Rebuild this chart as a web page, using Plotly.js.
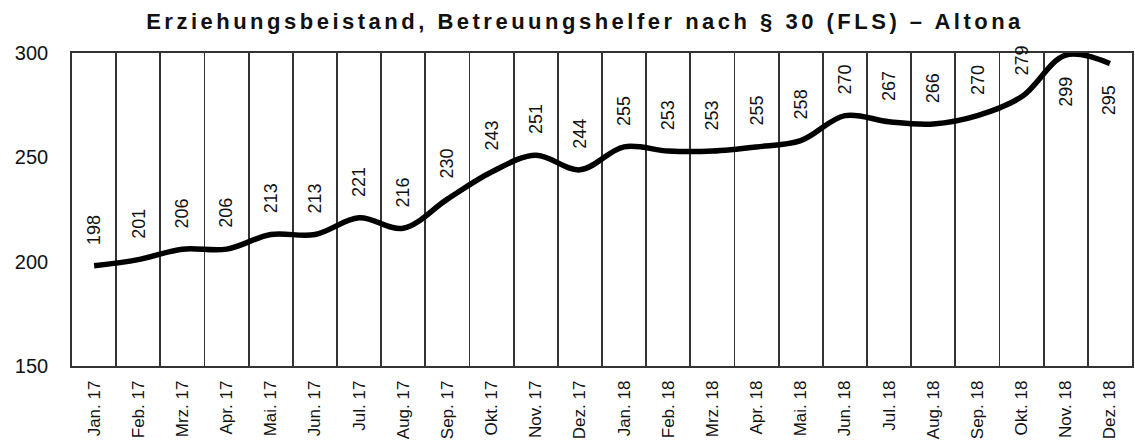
<!DOCTYPE html>
<html>
<head>
<meta charset="utf-8">
<script src="https://cdn.plot.ly/plotly-3.0.1.min.js"></script>
<style>
html,body{margin:0;padding:0;background:#fff;}
#chart{width:1135px;height:441px;}
#chart .gtitle{letter-spacing:3.5px;}
</style>
</head>
<body>
<div id="chart"></div>
<script>
const months = ["Jan. 17","Feb. 17","Mrz. 17","Apr. 17","Mai. 17","Jun. 17","Jul. 17","Aug. 17","Sep. 17","Okt. 17","Nov. 17","Dez. 17",
                "Jan. 18","Feb. 18","Mrz. 18","Apr. 18","Mai. 18","Jun. 18","Jul. 18","Aug. 18","Sep. 18","Okt. 18","Nov. 18","Dez. 18"];
const values = [198,201,206,206,213,213,221,216,230,243,251,244,255,253,253,255,258,270,267,266,270,279,299,295];
const yTicks = [150,200,250,300];
const titleText = "Erziehungsbeistand, Betreuungshelfer nach § 30 (FLS) – Altona";

const font = "Liberation Sans, Arial, sans-serif";

const annotations = months.map((m, i) => {
  const below = values[i] >= 290;
  return {
    x: m, y: values[i], xref: 'x', yref: 'y',
    text: String(values[i]),
    textangle: -90,
    showarrow: false,
    xanchor: 'center',
    yanchor: below ? 'top' : 'bottom',
    yshift: below ? -20 : 19,
    font: {family: font, size: 18, color: '#111'}
  };
});

const trace = {
  x: months, y: values,
  type: 'scatter', mode: 'lines',
  line: {color: '#000', width: 5.5, shape: 'spline', smoothing: 1},
  hoverinfo: 'skip'
};

const layout = {
  width: 1135, height: 441,
  margin: {l: 72, r: 3, t: 53, b: 75},
  paper_bgcolor: '#fff', plot_bgcolor: '#fff',
  showlegend: false,
  title: {text: '<b>' + titleText + '</b>', x: 585/1135, xref: 'container', xanchor: 'center',
          y: 1 - 29/441, yref: 'container', yanchor: 'bottom',
          font: {family: font, size: 22, color: '#111'}},
  xaxis: {
    type: 'category', categoryorder: 'array', categoryarray: months,
    range: [-0.5, months.length - 0.5], autorange: false,
    tickson: 'boundaries', showgrid: true, gridcolor: '#333', gridwidth: 1.8,
    showline: true, mirror: true, linecolor: '#333', linewidth: 1.8,
    ticks: '', tickangle: -90, ticklabelstandoff: 6,
    tickfont: {family: font, size: 17, color: '#111'},
    zeroline: false, fixedrange: true
  },
  yaxis: {
    range: [150, 300], autorange: false, tickvals: yTicks, ticktext: yTicks.map(String),
    showgrid: false, zeroline: false,
    showline: true, mirror: true, linecolor: '#333', linewidth: 1.8,
    ticks: '', ticklabelstandoff: 18,
    tickfont: {family: font, size: 20, color: '#111'},
    fixedrange: true
  },
  annotations: annotations
};

Plotly.newPlot('chart', [trace], layout, {staticPlot: true, displayModeBar: false});
</script>
</body>
</html>
